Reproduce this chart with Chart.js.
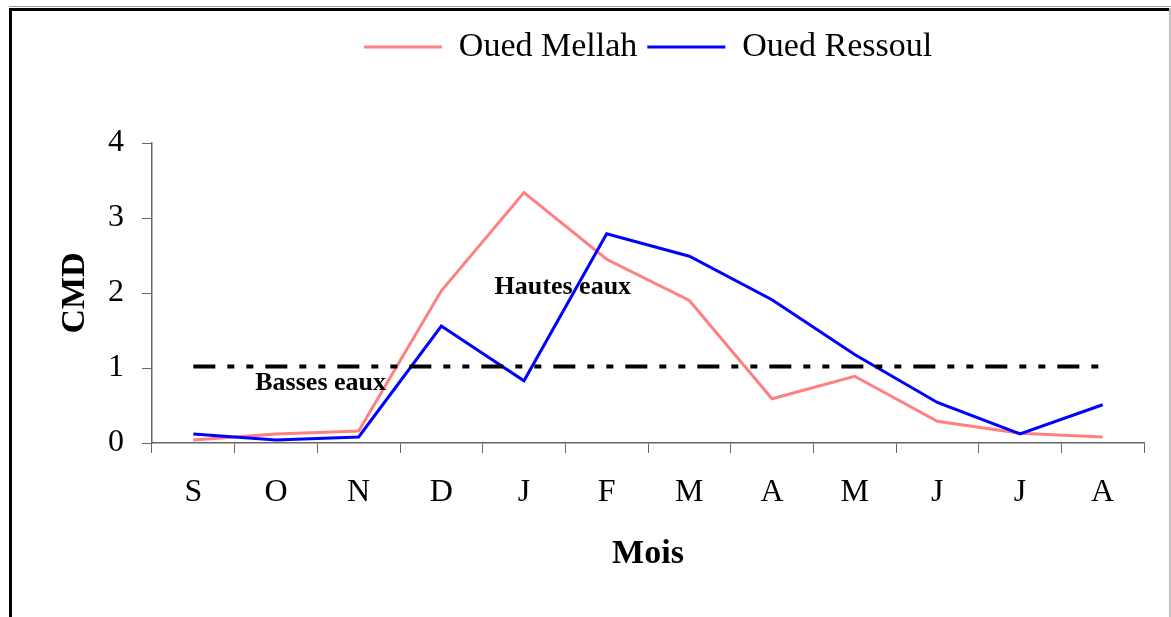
<!DOCTYPE html>
<html lang="fr">
<head>
    <meta charset="UTF-8">
    <title>CMD - Oued Mellah et Oued Ressoul</title>
    <style>
        body {
            margin: 0;
            background-color: #ffffff;
        }
        #wrap {
            width: 1171px;
            height: 617px;
        }
    </style>
</head>
<body>
    <div id="wrap">
        <canvas id="cmdChart" width="1171" height="617"></canvas>
    </div>

    <script src="https://cdn.jsdelivr.net/npm/chart.js"></script>

    <script>
        // donnees
        const mois = ['S', 'O', 'N', 'D', 'J', 'F', 'M', 'A', 'M', 'J', 'J', 'A'];
        const ouedMellah = [0.04, 0.12, 0.16, 2.03, 3.34, 2.45, 1.90, 0.59, 0.89, 0.29, 0.13, 0.08];
        const ouedRessoul = [0.12, 0.04, 0.08, 1.56, 0.83, 2.79, 2.49, 1.91, 1.18, 0.54, 0.12, 0.51];
        const seuil = 1.02;
        const yMin = 0;
        const yMax = 4;

        const serif = '"Liberation Serif", "Times New Roman", serif';

        // textes places en coordonnees des axes (index du mois, valeur CMD)
        const notes = [
            { texte: 'Hautes eaux', x: 4.47, y: 2.08 },
            { texte: 'Basses eaux', x: 1.54, y: 0.79 }
        ];

        // cadre autour du graphique
        const cadre = {
            id: 'cadre',
            beforeDraw(chart) {
                const ctx = chart.ctx;
                ctx.save();
                ctx.fillStyle = '#9a9a9a';
                ctx.fillRect(9, 6, 1162, 1);
                ctx.fillStyle = '#000000';
                ctx.fillRect(9, 8, 1162, 3);
                ctx.fillRect(9, 8, 3, 609);
                ctx.fillStyle = '#c0c0c0';
                ctx.fillRect(1169, 8, 2, 609);
                ctx.restore();
            }
        };

        const annotations = {
            id: 'annotations',
            afterDatasetsDraw(chart) {
                const ctx = chart.ctx;
                const xs = chart.scales.x;
                const ys = chart.scales.y;
                ctx.save();
                ctx.font = 'bold 26px ' + serif;
                ctx.fillStyle = '#000000';
                ctx.textAlign = 'center';
                ctx.textBaseline = 'middle';
                notes.forEach(n => {
                    ctx.fillText(n.texte, xs.getPixelForValue(n.x), ys.getPixelForValue(n.y));
                });
                ctx.restore();
            }
        };

        new Chart(document.getElementById('cmdChart'), {
            type: 'line',
            data: {
                labels: mois,
                datasets: [
                    {
                        label: 'Oued Mellah',
                        data: ouedMellah,
                        borderColor: '#FF8080',
                        backgroundColor: '#FF8080',
                        borderWidth: 3,
                        pointRadius: 0,
                        tension: 0,
                        order: 2
                    },
                    {
                        label: 'Oued Ressoul',
                        data: ouedRessoul,
                        borderColor: '#0000FF',
                        backgroundColor: '#0000FF',
                        borderWidth: 3,
                        pointRadius: 0,
                        tension: 0,
                        order: 1
                    },
                    {
                        label: 'Seuil',
                        data: [{ x: 0, y: seuil }, { x: mois.length - 1, y: seuil }],
                        xAxisID: 'xs',
                        borderColor: '#000000',
                        borderWidth: 4,
                        borderDash: [22, 12, 7, 12, 7, 12],
                        pointRadius: 0,
                        order: 0
                    }
                ]
            },
            options: {
                responsive: false,
                animation: false,
                devicePixelRatio: 1,
                layout: { padding: { top: 20, right: 27, bottom: 0, left: 0 } },
                plugins: {
                    legend: {
                        position: 'top',
                        fullSize: false,
                        labels: {
                            boxWidth: 78,
                            boxHeight: 0,
                            padding: 10,
                            color: '#000000',
                            font: { family: serif, size: 34 },
                            filter: item => item.datasetIndex < 2,
                            sort: (a, b) => a.datasetIndex - b.datasetIndex
                        }
                    },
                    subtitle: {
                        display: true,
                        text: '',
                        weight: 500,
                        fullSize: false,
                        font: { size: 10 },
                        padding: { top: 0, bottom: 57 }
                    },
                    tooltip: { enabled: false }
                },
                scales: {
                    x: {
                        offset: true,
                        grid: {
                            offset: true,
                            drawOnChartArea: false,
                            tickLength: 10,
                            color: '#666666'
                        },
                        border: { color: '#666666', width: 1.5 },
                        ticks: {
                            color: '#000000',
                            padding: 20,
                            font: { family: serif, size: 32 }
                        },
                        title: {
                            display: true,
                            text: 'Mois',
                            color: '#000000',
                            font: { family: serif, size: 34, weight: 'bold' },
                            padding: { top: 0, bottom: 42 }
                        },
                        afterFit(scale) {
                            scale.height = 174;
                        }
                    },
                    xs: {
                        type: 'linear',
                        display: false,
                        min: -0.5,
                        max: mois.length - 0.5
                    },
                    y: {
                        min: yMin,
                        max: yMax,
                        grid: {
                            drawOnChartArea: false,
                            tickLength: 10,
                            color: '#666666'
                        },
                        border: { color: '#666666', width: 1.5 },
                        ticks: {
                            stepSize: 1,
                            color: '#000000',
                            padding: 18,
                            font: { family: serif, size: 32 }
                        },
                        title: {
                            display: true,
                            text: 'CMD',
                            color: '#000000',
                            font: { family: serif, size: 34, weight: 'bold' },
                            padding: { top: 55, bottom: 0 }
                        },
                        afterFit(scale) {
                            scale.width = 152;
                        }
                    }
                }
            },
            plugins: [cadre, annotations]
        });
    </script>
</body>
</html>
